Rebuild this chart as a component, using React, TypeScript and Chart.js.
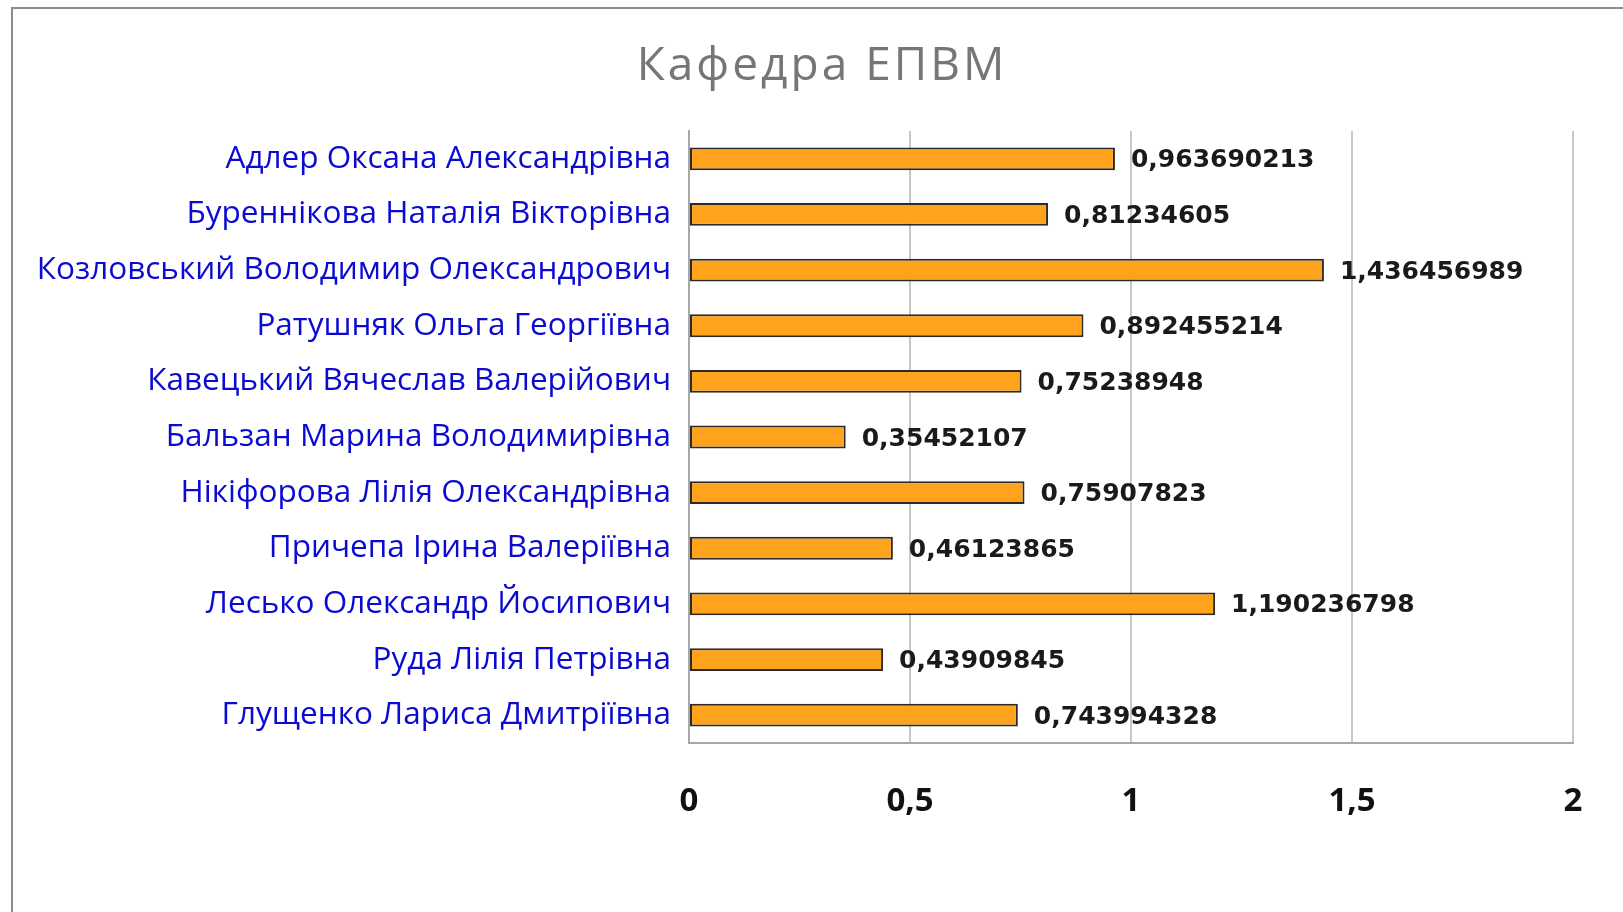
import React, { useEffect, useRef } from "react";
import { Chart, registerables } from "chart.js";

Chart.register(...registerables);

const chartTitle = "Кафедра ЕПВМ";

const categories = [
  "Адлер Оксана Александрівна",
  "Буреннікова Наталія Вікторівна",
  "Козловський Володимир Олександрович",
  "Ратушняк Ольга Георгіївна",
  "Кавецький Вячеслав Валерійович",
  "Бальзан Марина Володимирівна",
  "Нікіфорова Лілія Олександрівна",
  "Причепа Ірина Валеріївна",
  "Лесько Олександр Йосипович",
  "Руда Лілія Петрівна",
  "Глущенко Лариса Дмитріївна",
];

const values = [
  0.963690213, 0.81234605, 1.436456989, 0.892455214, 0.75238948, 0.35452107,
  0.75907823, 0.46123865, 1.190236798, 0.43909845, 0.743994328,
];

const xMin = 0;
const xMax = 2;
const xStep = 0.5;

const fmt = (v: number) => String(v).replace(".", ",");

export default function App() {
  const ref = useRef<HTMLCanvasElement | null>(null);

  useEffect(() => {
    document.body.style.margin = "0";
    const canvas = ref.current;
    if (!canvas) return;

    const framePlugin = {
      id: "frame",
      beforeDraw(chart: any) {
        const ctx = chart.ctx;
        ctx.save();
        ctx.fillStyle = "#ffffff";
        ctx.fillRect(0, 0, chart.width, chart.height);
        ctx.strokeStyle = "#8c8c8c";
        ctx.lineWidth = 2;
        ctx.strokeRect(12, 8, 1800, 1200);
        ctx.fillStyle = "#767676";
        ctx.font = '400 46px "Open Sans"';
        try {
          (ctx as any).letterSpacing = "3px";
        } catch (e) {}
        ctx.textAlign = "center";
        ctx.textBaseline = "alphabetic";
        ctx.fillText(chartTitle, 822, 80);
        ctx.restore();
      },
    };

    const valueLabels = {
      id: "valueLabels",
      afterDatasetsDraw(chart: any) {
        const ctx = chart.ctx;
        const meta = chart.getDatasetMeta(0);
        ctx.save();
        ctx.fillStyle = "#1a1a1a";
        ctx.font = 'bold 25px "DejaVu Sans"';
        ctx.textAlign = "left";
        ctx.textBaseline = "middle";
        meta.data.forEach((bar: any, i: number) => {
          ctx.fillText(fmt(values[i]), bar.x + 16, bar.y + 2);
        });
        ctx.restore();
      },
    };

    const chart = new Chart(canvas, {
      type: "bar",
      data: {
        labels: categories,
        datasets: [
          {
            data: values,
            backgroundColor: "#FFA31C",
            borderColor: "#2b2b2b",
            borderWidth: 2,
            borderSkipped: false,
            barPercentage: 0.41,
            categoryPercentage: 1,
          },
        ],
      },
      options: {
        indexAxis: "y",
        animation: false,
        responsive: false,
        layout: { padding: { top: 131, right: 50, left: 0, bottom: 0 } },
        plugins: {
          legend: { display: false },
          title: { display: false },
          tooltip: { enabled: false },
        },
        scales: {
          x: {
            min: xMin,
            max: xMax,
            ticks: {
              stepSize: xStep,
              color: "#111111",
              font: { family: "Open Sans", size: 33, weight: "bold" },
              padding: 39,
              callback: (v: any) => fmt(Number(v)),
            },
            grid: { color: "#c8c8c8", lineWidth: 2, drawTicks: false },
            border: { color: "#a8a8a8", width: 2 },
            afterFit(scale: any) {
              scale.height = 912 - 743;
            },
          },
          y: {
            ticks: {
              color: "#0a0ad2",
              font: { family: "Open Sans", size: 31.5 },
              padding: 18,
            },
            grid: { display: false, drawTicks: false },
            border: { color: "#a8a8a8", width: 2 },
            afterFit(scale: any) {
              scale.width = 689;
            },
          },
        },
      },
      plugins: [framePlugin, valueLabels],
    });

    return () => chart.destroy();
  }, []);

  return (
    <div style={{ width: 1623, height: 912, position: "relative" }}>
      <canvas ref={ref} width={1623} height={912} />
    </div>
  );
}
